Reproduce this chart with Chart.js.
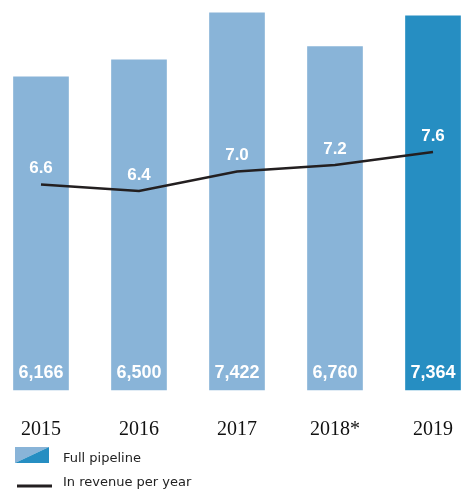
<!DOCTYPE html>
<html>
<head>
<meta charset="utf-8">
<script src="https://cdn.jsdelivr.net/npm/chart.js@4/dist/chart.umd.min.js"></script>
<style>
  html, body { margin: 0; padding: 0; background: #fff; }
  canvas { display: block; }
</style>
</head>
<body>
<canvas id="pipelineChart" width="465" height="490"></canvas>
<script>
// chart data
const years = ['2015', '2016', '2017', '2018*', '2019'];
const fullPipeline = [6166, 6500, 7422, 6760, 7364];
const revenuePerYear = [6.6, 6.4, 7.0, 7.2, 7.6];
const legendLabels = ['Full pipeline', 'In revenue per year'];

const lightBlue = '#89b4d8';
const darkBlue = '#268ec2';
const lineColor = '#231f20';

// white value labels + custom legend
const labelsPlugin = {
    id: 'valueLabels',
    afterDatasetsDraw(chart) {
        const ctx = chart.ctx;
        const barMeta = chart.getDatasetMeta(0);
        const lineMeta = chart.getDatasetMeta(1);
        const base = chart.scales.y.getPixelForValue(0);
        ctx.save();
        ctx.fillStyle = '#fff';
        ctx.textAlign = 'center';
        ctx.textBaseline = 'middle';
        ctx.font = 'bold 18px "Liberation Sans", Arial, sans-serif';
        barMeta.data.forEach((bar, i) => {
            ctx.fillText(fullPipeline[i].toLocaleString('en-US'), bar.x, base - 17);
        });
        ctx.font = 'bold 17px "Liberation Sans", Arial, sans-serif';
        lineMeta.data.forEach((pt, i) => {
            ctx.fillText(revenuePerYear[i].toFixed(1), pt.x, pt.y - 16);
        });
        ctx.restore();
    },
    afterDraw(chart) {
        const ctx = chart.ctx;
        ctx.save();
        // split swatch
        ctx.fillStyle = lightBlue;
        ctx.beginPath();
        ctx.moveTo(15, 447); ctx.lineTo(49, 447); ctx.lineTo(15, 463); ctx.closePath();
        ctx.fill();
        ctx.fillStyle = darkBlue;
        ctx.beginPath();
        ctx.moveTo(49, 447); ctx.lineTo(49, 463); ctx.lineTo(15, 463); ctx.closePath();
        ctx.fill();
        // line swatch
        ctx.strokeStyle = lineColor;
        ctx.lineWidth = 3;
        ctx.beginPath();
        ctx.moveTo(17, 486); ctx.lineTo(52, 486);
        ctx.stroke();
        ctx.fillStyle = '#222';
        ctx.font = '13px "DejaVu Sans", Verdana, sans-serif';
        ctx.textAlign = 'left';
        ctx.textBaseline = 'alphabetic';
        ctx.fillText(legendLabels[0], 63, 462);
        ctx.fillText(legendLabels[1], 63, 486);
        ctx.restore();
    }
};

new Chart(document.getElementById('pipelineChart'), {
    data: {
        labels: years,
        datasets: [{
            type: 'bar',
            label: legendLabels[0],
            data: fullPipeline,
            backgroundColor: [lightBlue, lightBlue, lightBlue, lightBlue, darkBlue],
            barThickness: 55,
            clip: false,
            yAxisID: 'y',
            order: 1
        }, {
            type: 'line',
            label: legendLabels[1],
            data: revenuePerYear,
            borderColor: lineColor,
            borderWidth: 2.5,
            pointRadius: 0,
            tension: 0,
            yAxisID: 'y1',
            order: 0
        }]
    },
    options: {
        responsive: false,
        animation: false,
        layout: { padding: { left: 41, right: 32, top: 10, bottom: 50 } },
        plugins: { legend: { display: false }, tooltip: { enabled: false } },
        scales: {
            x: {
                offset: false,
                grid: { display: false, drawTicks: false },
                border: { display: false },
                ticks: {
                    padding: 28,
                    color: '#111',
                    font: { family: '"Liberation Serif", "Times New Roman", serif', size: 20 }
                },
                afterFit(scale) {
                    scale.height = 50;
                    scale.paddingLeft = 0;
                    scale.paddingRight = 0;
                }
            },
            y: { display: false, min: 0, max: 7480 },
            y1: { display: false, min: 0.28, max: 11.97 }
        }
    },
    plugins: [labelsPlugin]
});
</script>
</body>
</html>
